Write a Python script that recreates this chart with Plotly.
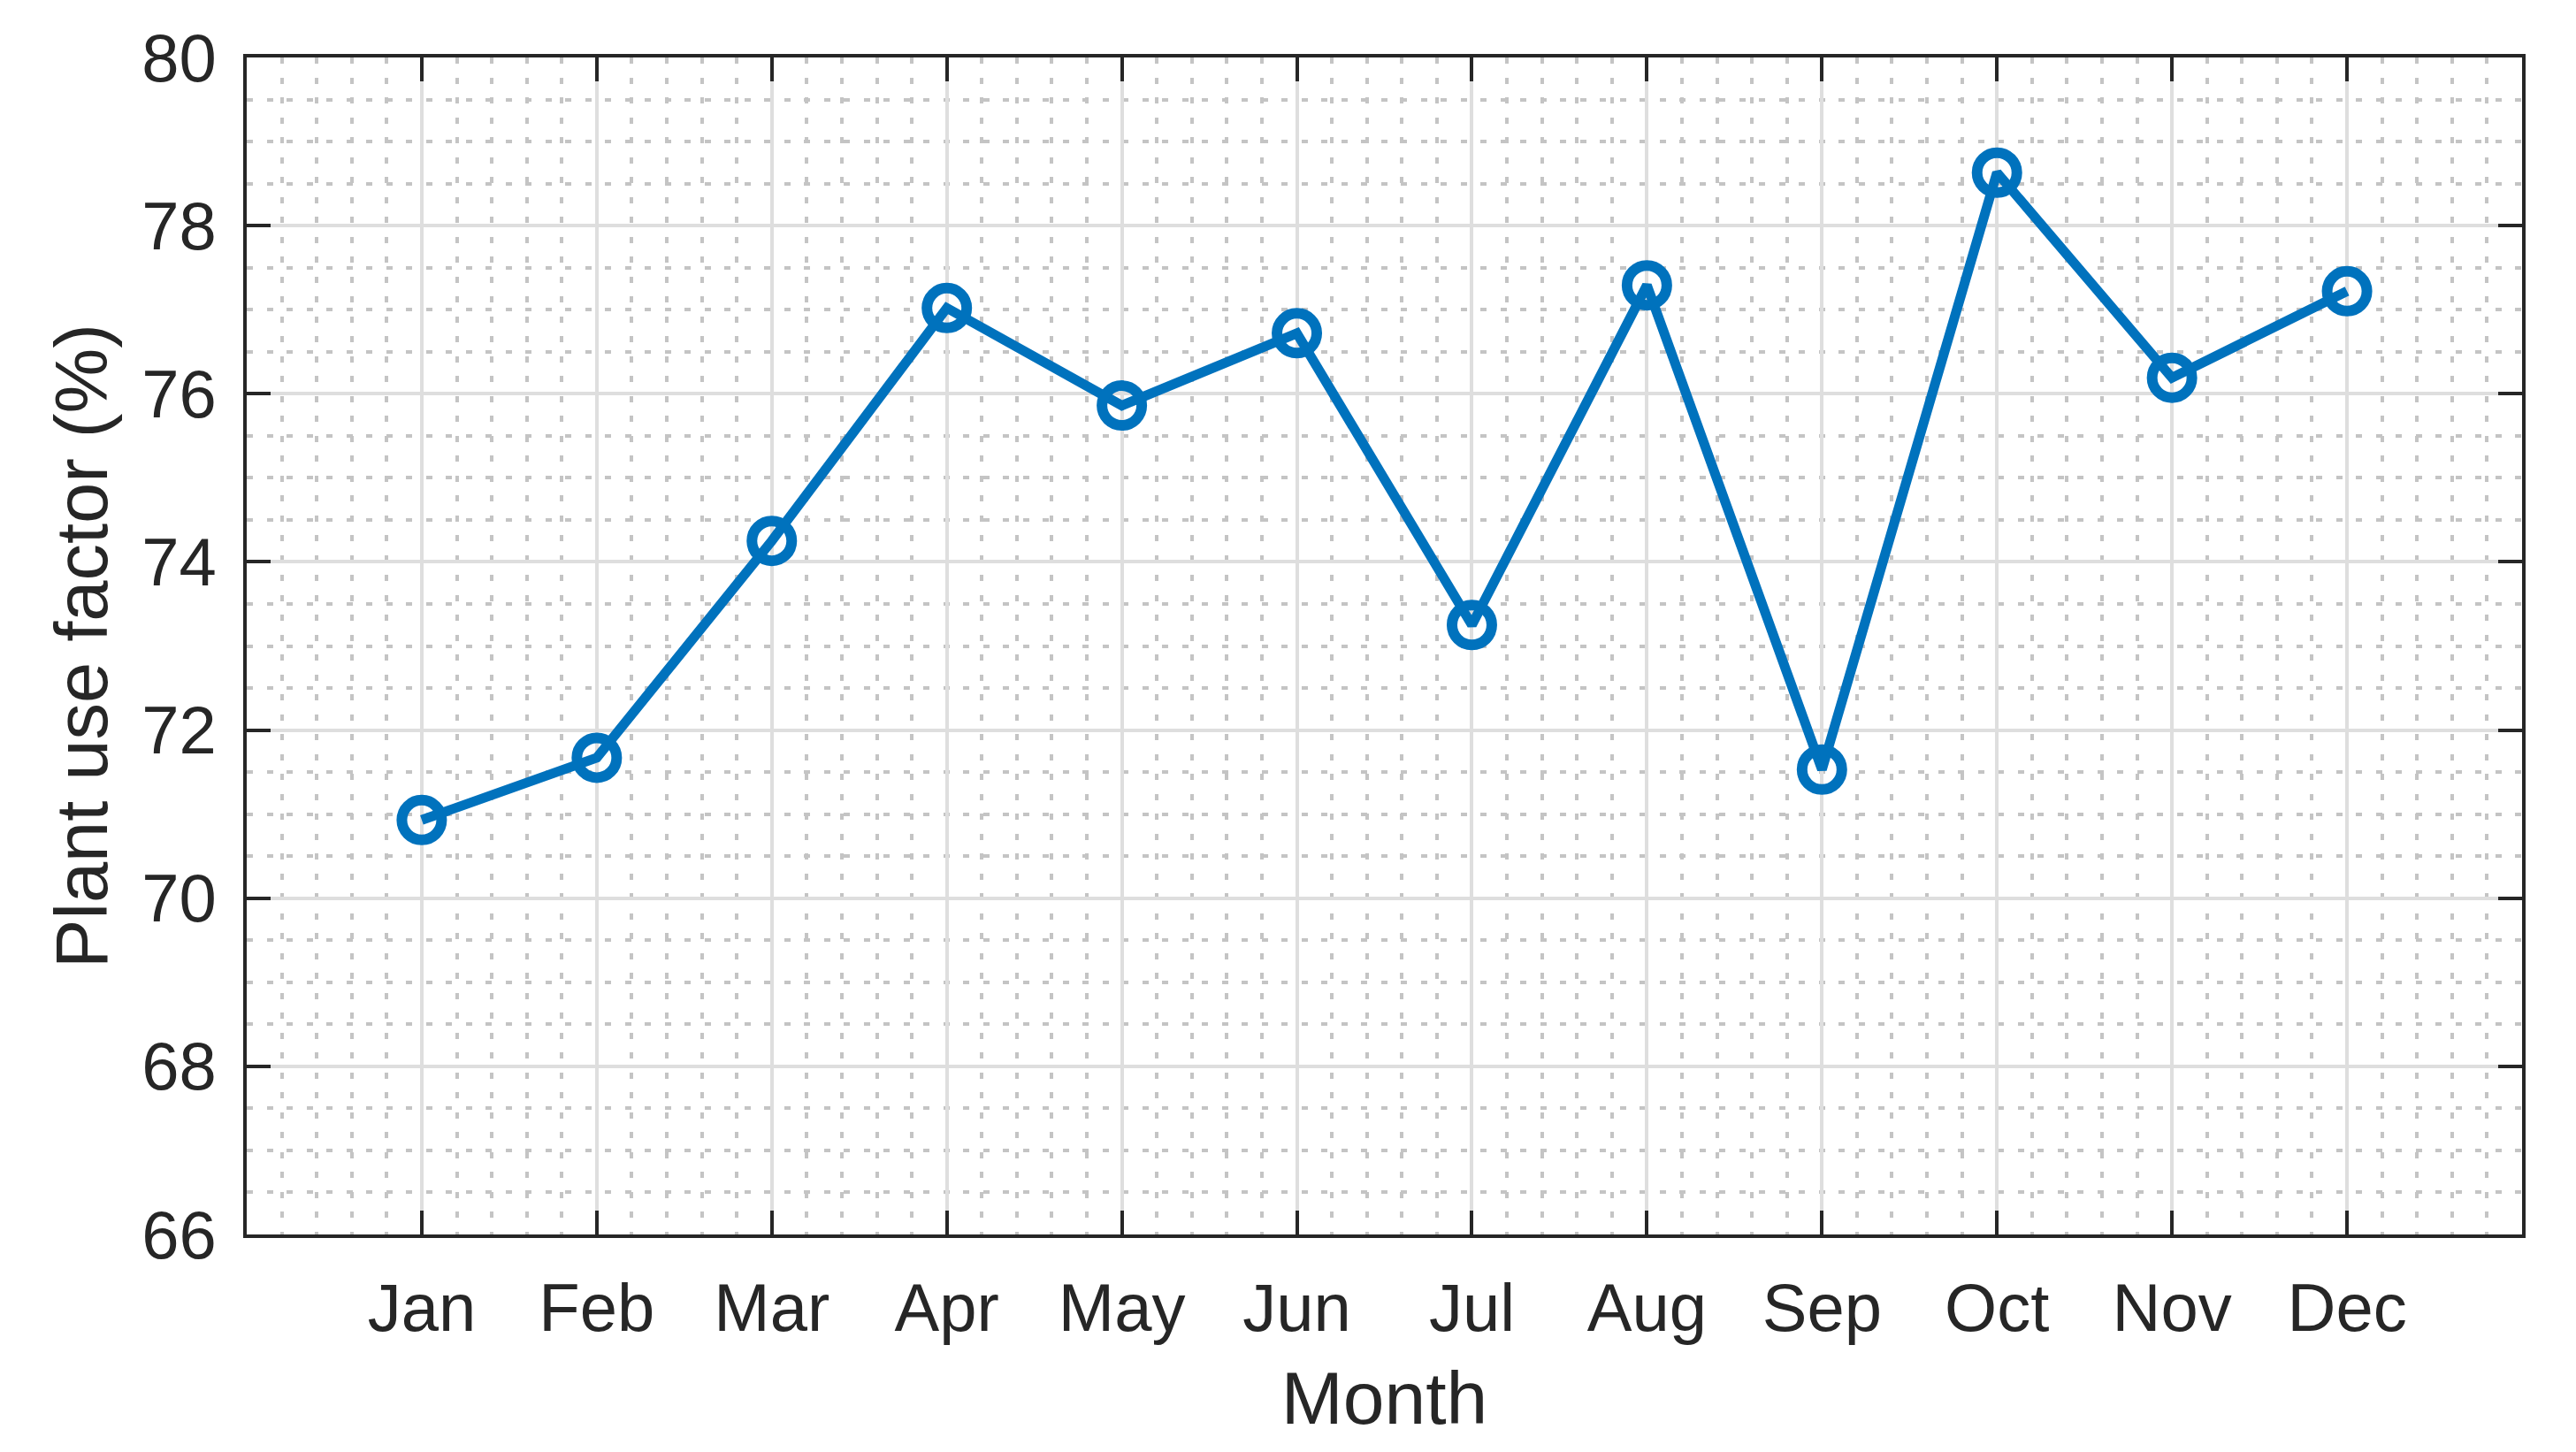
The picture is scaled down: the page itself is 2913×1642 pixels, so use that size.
import plotly.graph_objects as go

months = ["Jan", "Feb", "Mar", "Apr", "May", "Jun", "Jul", "Aug", "Sep", "Oct", "Nov", "Dec"]
month_index = list(range(1, 13))
plant_use_factor = [70.93, 71.67, 74.25, 77.02, 75.86, 76.72, 73.25, 77.29, 71.53, 78.63, 76.19, 77.22]
y_ticks = [66, 68, 70, 72, 74, 76, 78, 80]

BLUE = "#0072BD"
DARK = "#262626"
FONT = "Liberation Sans, Arial, Helvetica, sans-serif"

fig = go.Figure()
fig.add_trace(go.Scatter(
    x=month_index,
    y=plant_use_factor,
    mode="lines+markers",
    line=dict(color=BLUE, width=11),
    marker=dict(symbol="circle-open", size=45, color=BLUE, line=dict(width=12, color=BLUE)),
    showlegend=False,
))

axis_common = dict(
    showline=True,
    linecolor=DARK,
    linewidth=4,
    mirror="ticks",
    ticks="inside",
    ticklen=27,
    tickwidth=4,
    tickcolor=DARK,
    showgrid=True,
    gridcolor="#dedede",
    gridwidth=4,
    zeroline=False,
    tickfont=dict(family=FONT, size=76, color=DARK),
)

fig.update_xaxes(
    **axis_common,
    range=[0, 13],
    tickmode="array",
    tickvals=month_index,
    ticktext=months,
    ticklabelstandoff=14,
    minor=dict(dtick=0.2, tick0=0, showgrid=True, gridcolor="#c4c4c4", gridwidth=4,
               griddash="7px,15.5px", ticks=""),
    title=dict(text="Month", font=dict(family=FONT, size=84, color=DARK), standoff=32),
)

fig.update_yaxes(
    **axis_common,
    range=[66, 80],
    tickmode="array",
    tickvals=y_ticks,
    ticktext=[str(v) for v in y_ticks],
    ticklabelstandoff=15,
    minor=dict(dtick=0.5, tick0=66, showgrid=True, gridcolor="#c4c4c4", gridwidth=4,
               griddash="7px,15.5px", ticks=""),
    title=dict(text="Plant use factor (%)", font=dict(family=FONT, size=83, color=DARK), standoff=12),
)

# page body has an 8px default margin, so the figure is 16px smaller and offset
fig.update_layout(
    width=2897,
    height=1626,
    margin=dict(l=271, r=53, t=57, b=238, autoexpand=False),
    paper_bgcolor="white",
    plot_bgcolor="white",
    font=dict(family=FONT, color=DARK),
)

fig.write_html("out.html")
